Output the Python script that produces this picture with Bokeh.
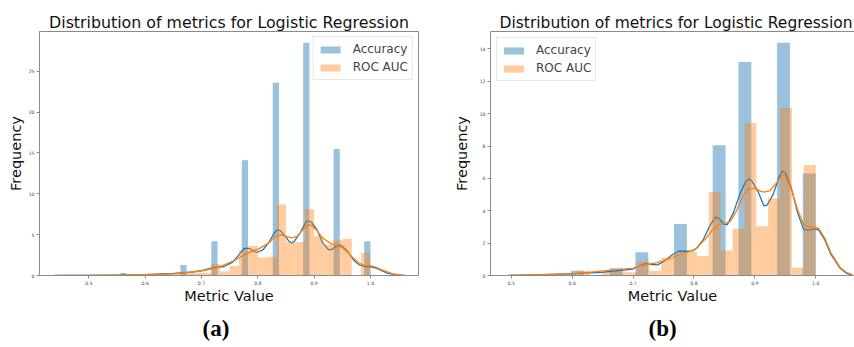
from bokeh.plotting import figure
from bokeh.layouts import row
from bokeh.models import (Range1d, FixedTicker, Title, Legend, LegendItem, LinearAxis,
                          PrintfTickFormatter)
from bokeh.embed import file_html
from bokeh.resources import INLINE

TITLE = "Distribution of metrics for Logistic Regression"
X_LABEL = "Metric Value"
Y_LABEL = "Frequency"
SERIES = ["Accuracy", "ROC AUC"]
PANEL_LABELS = ["(a)", "(b)"]
X_TICKS = [0.5, 0.6, 0.7, 0.8, 0.9, 1.0]
A_Y_TICKS = [0, 5, 10, 15, 20, 25]
B_Y_TICKS = [0, 2, 4, 6, 8, 10, 12, 14]

# ---- panel (a): histogram bins (density) ----
A_ACC_LEFT = [0.5556, 0.6625, 0.7175, 0.7715, 0.8265, 0.8805, 0.9345, 0.9889]
A_ACC_RIGHT = [0.5667, 0.6736, 0.7286, 0.7826, 0.8376, 0.8916, 0.9456, 1.0]
A_ACC_DENS = [0.3, 1.3, 4.2, 14.1, 23.6, 28.5, 15.5, 4.2]

A_ROC_EDGES = [0.55, 0.5667, 0.5833, 0.6, 0.6167, 0.6333, 0.65, 0.6667, 0.6833, 0.7,
               0.7167, 0.7333, 0.75, 0.7667, 0.7833, 0.8, 0.8167, 0.8333, 0.85, 0.8667,
               0.8833, 0.9, 0.9167, 0.9333, 0.95, 0.9667, 0.9833, 1.0]
A_ROC_DENS = [0.1, 0.1, 0.1, 0.1, 0.15, 0.15, 0.2, 0.3, 0.3, 0.3,
              1.4, 0.5, 1.2, 3.1, 3.6, 2.2, 2.3, 8.7, 4.1, 4.1,
              8.1, 4.8, 3.8, 4.3, 4.5, 0.0, 2.8]

# ---- panel (a): KDE curves ----
A_ACC_KDE_X = [0.44, 0.50, 0.55, 0.60, 0.65, 0.68, 0.70, 0.72, 0.74, 0.755, 0.765, 0.77,
               0.775, 0.78, 0.785, 0.79, 0.795, 0.80, 0.81, 0.82, 0.83, 0.835, 0.84, 0.85,
               0.855, 0.86, 0.865, 0.875, 0.885, 0.89, 0.895, 0.905, 0.915, 0.925, 0.93,
               0.94, 0.945, 0.95, 0.96, 0.97, 0.98, 0.99, 1.0, 1.01, 1.02, 1.03, 1.045, 1.06]
A_ACC_KDE_Y = [0.0, 0.02, 0.05, 0.1, 0.25, 0.4, 0.6, 0.95, 1.1, 1.6, 2.4, 2.85,
               3.25, 3.35, 3.3, 3.1, 2.9, 2.85, 3.2, 4.1, 5.3, 5.6, 5.5, 4.7,
               4.2, 4.0, 4.2, 5.2, 6.5, 6.7, 6.55, 5.6, 4.0, 3.2, 3.15,
               3.6, 3.75, 3.6, 2.9, 1.9, 1.3, 1.1, 1.05, 0.9, 0.6, 0.3, 0.08, 0.0]
A_ROC_KDE_X = [0.44, 0.55, 0.60, 0.65, 0.70, 0.73, 0.76, 0.78, 0.80, 0.82, 0.83, 0.84,
               0.85, 0.86, 0.87, 0.88, 0.89, 0.895, 0.905, 0.915, 0.93, 0.94, 0.95,
               0.96, 0.97, 0.98, 0.99, 1.0, 1.01, 1.02, 1.04, 1.06]
A_ROC_KDE_Y = [0.0, 0.05, 0.1, 0.2, 0.55, 1.0, 1.9, 2.7, 3.2, 4.0, 4.7, 5.0,
               4.8, 4.6, 4.8, 5.6, 6.2, 6.15, 5.5, 4.6, 3.9, 3.7, 3.4,
               2.8, 2.1, 1.5, 1.25, 1.2, 1.0, 0.7, 0.2, 0.0]

# ---- panel (b): histogram bins (density) ----
B_ACC_LEFT = [0.5556, 0.5979, 0.6614, 0.7037, 0.7672, 0.8307, 0.8730, 0.9365, 0.9788]
B_ACC_RIGHT = [0.5767, 0.6190, 0.6825, 0.7249, 0.7884, 0.8519, 0.8942, 0.9577, 1.0]
B_ACC_DENS = [0.05, 0.3, 0.45, 1.43, 3.19, 8.05, 13.2, 14.38, 6.31]

B_ROC_EDGES = [0.6096, 0.6291, 0.6486, 0.6682, 0.6877, 0.7072, 0.7267, 0.7462, 0.7658,
               0.7853, 0.8048, 0.8243, 0.8438, 0.8634, 0.8829, 0.9024, 0.9219, 0.9414,
               0.9610, 0.9805, 1.0]
B_ROC_DENS = [0.3, 0.0, 0.2, 0.25, 0.2, 0.86, 0.3, 1.1, 1.35, 1.46,
              1.2, 5.18, 1.55, 2.89, 9.42, 3.05, 4.78, 10.36, 0.5, 6.83]

# ---- panel (b): KDE curves ----
B_ACC_KDE_X = [0.495, 0.55, 0.60, 0.65, 0.70, 0.72, 0.73, 0.74, 0.75, 0.765, 0.775,
               0.785, 0.795, 0.805, 0.815, 0.825, 0.835, 0.84, 0.85, 0.855, 0.865, 0.875,
               0.885, 0.89, 0.895, 0.905, 0.915, 0.92, 0.93, 0.94, 0.945, 0.95, 0.96,
               0.97, 0.98, 0.99, 1.0, 1.005, 1.015, 1.025, 1.04, 1.05, 1.06]
B_ACC_KDE_Y = [0.0, 0.05, 0.12, 0.2, 0.4, 0.74, 0.68, 0.66, 0.85, 1.3, 1.5,
               1.5, 1.5, 1.7, 2.2, 3.0, 3.6, 3.55, 3.15, 3.15, 3.9, 5.0,
               5.8, 5.96, 5.85, 5.2, 4.3, 4.35, 5.0, 6.1, 6.45, 6.35, 5.4,
               3.9, 2.85, 2.8, 2.88, 2.8, 2.2, 1.3, 0.45, 0.15, 0.03]
B_ROC_KDE_X = [0.495, 0.60, 0.70, 0.72, 0.74, 0.76, 0.78, 0.80, 0.82, 0.83, 0.84,
               0.85, 0.86, 0.87, 0.88, 0.89, 0.90, 0.91, 0.915, 0.925, 0.935, 0.945,
               0.95, 0.96, 0.97, 0.98, 0.99, 1.0, 1.005, 1.015, 1.025, 1.04, 1.05, 1.06]
B_ROC_KDE_Y = [0.0, 0.1, 0.45, 0.65, 0.8, 1.05, 1.35, 1.55, 2.3, 2.8, 3.15,
               3.2, 3.35, 4.0, 4.9, 5.35, 5.4, 5.2, 5.15, 5.25, 5.7, 6.2,
               6.15, 5.3, 4.1, 3.15, 3.0, 3.0, 2.9, 2.3, 1.4, 0.5, 0.2, 0.05]

BLUE = "#1f77b4"
ORANGE = "#ff7f0e"
SPINE = "#8a8a8a"


def style(p, yticks, ylab_standoff, title_size):
    p.xgrid.visible = False
    p.ygrid.visible = False
    p.xaxis.ticker = FixedTicker(ticks=X_TICKS)
    p.xaxis.formatter = PrintfTickFormatter(format="%.1f")
    p.yaxis.ticker = FixedTicker(ticks=yticks)
    p.xaxis.axis_label = X_LABEL
    p.yaxis.axis_label = Y_LABEL
    for ax in (p.xaxis, p.yaxis):
        ax.major_label_text_font = "DejaVu Sans"
        ax.major_label_text_font_size = "4.6px"
        ax.major_label_text_color = "#444444"
        ax.axis_label_text_font = "DejaVu Sans"
        ax.axis_label_text_font_size = "14.5px"
        ax.axis_label_text_font_style = "normal"
        ax.axis_label_text_color = "#111111"
        ax.major_tick_out = 3
        ax.major_tick_in = 0
        ax.minor_tick_out = 0
        ax.minor_tick_in = 0
        ax.major_label_standoff = 2
        ax.axis_line_color = SPINE
        ax.major_tick_line_color = SPINE
    p.xaxis.axis_label_standoff = 0
    p.yaxis.axis_label_standoff = ylab_standoff
    p.title.text = TITLE
    p.title.text_font = "DejaVu Sans"
    p.title.text_font_size = title_size
    p.title.text_font_style = "normal"
    p.title.text_color = "#111111"
    p.title.standoff = 0


def draw(p, acc_l, acc_r, acc_d, roc_e, roc_d, akx, aky, rkx, rky):
    r_acc = p.quad(left=acc_l, right=acc_r, bottom=0, top=acc_d,
                   fill_color=BLUE, fill_alpha=0.45, line_color=None)
    p.line(akx, aky, line_color=BLUE, line_width=1.3, line_join="round")
    r_roc = p.quad(left=roc_e[:-1], right=roc_e[1:], bottom=0, top=roc_d,
                   fill_color=ORANGE, fill_alpha=0.4, line_color=None)
    p.line(rkx, rky, line_color=ORANGE, line_width=1.3, line_join="round")
    return r_acc, r_roc


def legend(r_acc, r_roc, loc, margin):
    return Legend(items=[LegendItem(label=SERIES[0], renderers=[r_acc]),
                         LegendItem(label=SERIES[1], renderers=[r_roc])],
                  location=loc, margin=margin, padding=4, spacing=2,
                  glyph_width=25, glyph_height=9, label_height=16, label_standoff=10,
                  label_text_font="DejaVu Sans", label_text_font_size="12px",
                  border_line_color="#d0d0d0", border_line_width=1,
                  background_fill_alpha=0.8)


# ---------- panel (a) ----------
pa = figure(width=450, height=347,
            min_border_left=39, min_border_right=32, min_border_top=31, min_border_bottom=66,
            x_range=Range1d(0.4124, 1.0853), y_range=Range1d(0, 29.87),
            output_backend="svg", toolbar_location=None)
style(pa, A_Y_TICKS, 2, "15.8px")
pa.title.align = "center"
pa.outline_line_color = SPINE
ra = draw(pa, A_ACC_LEFT, A_ACC_RIGHT, A_ACC_DENS, A_ROC_EDGES, A_ROC_DENS,
          A_ACC_KDE_X, A_ACC_KDE_Y, A_ROC_KDE_X, A_ROC_KDE_Y)
pa.add_layout(legend(*ra, "top_right", 5))
pa.add_layout(Title(text=PANEL_LABELS[0], align="left", offset=163,
                    text_font="Liberation Serif", text_font_size="23px",
                    text_font_style="bold", text_color="black", standoff=14), "below")

# ---------- panel (b) ----------
pb = figure(width=404, height=347,
            min_border_left=35, min_border_right=0, min_border_top=29, min_border_bottom=65,
            x_range=Range1d(0.4657, 1.0637), y_range=Range1d(0, 15.08),
            output_backend="svg", toolbar_location=None)
style(pb, B_Y_TICKS, 7, "15.5px")
pb.title.align = "left"
pb.title.offset = 9
pb.outline_line_color = None
top_axis = LinearAxis(ticker=FixedTicker(ticks=[]), major_label_text_font_size="0px",
                      major_tick_out=0, major_tick_in=0, major_label_standoff=0,
                      axis_line_color=SPINE)
pb.add_layout(top_axis, "above")
rb = draw(pb, B_ACC_LEFT, B_ACC_RIGHT, B_ACC_DENS, B_ROC_EDGES, B_ROC_DENS,
          B_ACC_KDE_X, B_ACC_KDE_Y, B_ROC_KDE_X, B_ROC_KDE_Y)
pb.add_layout(legend(*rb, "top_left", 6))
pb.add_layout(Title(text=PANEL_LABELS[1], align="left", offset=158,
                    text_font="Liberation Serif", text_font_size="23px",
                    text_font_style="bold", text_color="black", standoff=14), "below")

layout = row(pa, pb)
open("out.html", "w").write(file_html(layout, INLINE))
